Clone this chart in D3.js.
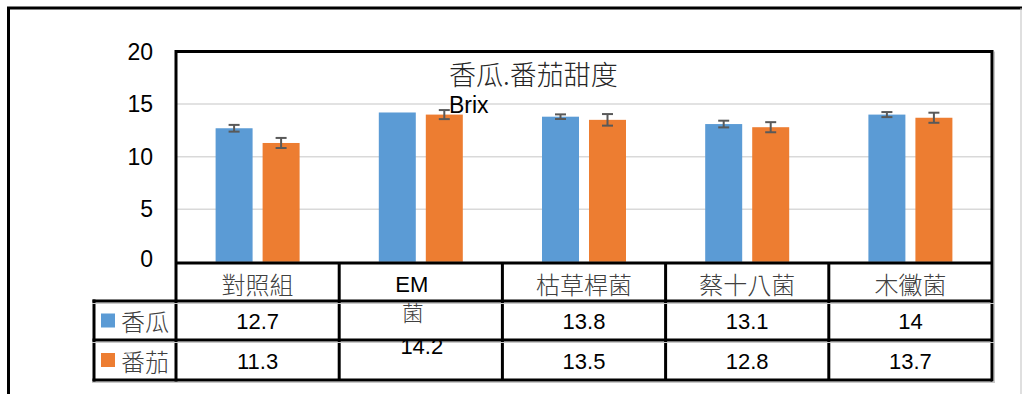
<!DOCTYPE html>
<html>
<head>
<meta charset="utf-8">
<script src="https://cdn.jsdelivr.net/npm/d3@7"></script>
<style>
  html, body { margin: 0; padding: 0; background: #fff; }
  svg { display: block; }
  .cjk { font-family: "Noto Sans CJK TC", "Noto Sans CJK SC", sans-serif; font-weight: 300; }
  .num { font-family: "Liberation Sans", Arial, sans-serif; }
</style>
</head>
<body>
<svg id="chart" width="1022" height="394"></svg>
<script>
// ---- data ----
const categories = ["對照組", "EM 菌", "枯草桿菌", "蔡十八菌", "木黴菌"];
const seriesNames = ["香瓜", "番茄"];
const melon = [12.7, 14.2, 13.8, 13.1, 14.0];
const tomato = [11.3, 14.0, 13.5, 12.8, 13.7];
const melonErr = [0.32, 0, 0.22, 0.32, 0.24];
const tomatoErr = [0.48, 0.43, 0.55, 0.48, 0.48];
const yTicks = [0, 5, 10, 15, 20];
const titleLines = ["香瓜.番茄甜度", "Brix"];
const colors = ["#5B9BD5", "#ED7D31"];

// ---- layout ----
const W = 1022, H = 394;
const plot = { left: 176, right: 992, top: 51.5, bottom: 261.8 };
const table = { top: 263, row1: 301, row2: 340, bottom: 380, legendLeft: 94 };

const svg = d3.select("#chart");

const y = d3.scaleLinear().domain([0, 20]).range([plot.bottom, plot.top]);
const x0 = d3.scaleBand().domain(categories).range([plot.left, plot.right]).padding(0);
const groupW = 84;
const x1 = d3.scaleBand().domain(seriesNames).range([0, groupW]).paddingInner(0.213).paddingOuter(0);
const groupStart = c => x0(c) + (x0.bandwidth() - groupW) / 2;

// outer frame
svg.append("line").attr("x1", 8.5).attr("x2", 8.5).attr("y1", 7).attr("y2", H).attr("stroke", "#000").attr("stroke-width", 3);
svg.append("line").attr("x1", 7).attr("x2", W).attr("y1", 8).attr("y2", 8).attr("stroke", "#000").attr("stroke-width", 3);
svg.append("line").attr("x1", 1021).attr("x2", 1021).attr("y1", 8).attr("y2", H).attr("stroke", "#bfbfbf").attr("stroke-width", 1);

// gridlines
svg.append("g").selectAll("line").data(yTicks.filter(t => t > 0 && t < 20)).join("line")
  .attr("x1", plot.left).attr("x2", plot.right)
  .attr("y1", d => y(d)).attr("y2", d => y(d))
  .attr("stroke", "#d9d9d9").attr("stroke-width", 1.5);

// y tick labels
svg.append("g").selectAll("text").data(yTicks).join("text")
  .attr("class", "num")
  .attr("x", 153)
  .attr("y", d => y(d) + (d === 0 ? -3 : 0))
  .attr("text-anchor", "end")
  .attr("dominant-baseline", "central")
  .attr("font-size", 23)
  .attr("fill", "#000")
  .text(d => d);

// bars
const seriesData = [melon, tomato];
const errData = [melonErr, tomatoErr];
const barsG = svg.append("g");
seriesNames.forEach((s, si) => {
  barsG.append("g").selectAll("rect").data(categories).join("rect")
    .attr("x", c => groupStart(c) + x1(s))
    .attr("y", (c, i) => y(seriesData[si][i]))
    .attr("width", x1.bandwidth())
    .attr("height", (c, i) => y(0) - y(seriesData[si][i]))
    .attr("fill", colors[si]);
});

// error bars
const errG = svg.append("g").attr("stroke", "#595959").attr("stroke-width", 2).attr("fill", "none");
seriesNames.forEach((s, si) => {
  categories.forEach((c, i) => {
    const e = errData[si][i];
    if (!e) return;
    const cx = groupStart(c) + x1(s) + x1.bandwidth() / 2;
    const v = seriesData[si][i];
    const yt = y(v + e), yb = y(v - e);
    errG.append("line").attr("x1", cx).attr("x2", cx).attr("y1", yt).attr("y2", yb);
    errG.append("line").attr("x1", cx - 5.5).attr("x2", cx + 5.5).attr("y1", yt).attr("y2", yt);
    errG.append("line").attr("x1", cx - 5.5).attr("x2", cx + 5.5).attr("y1", yb).attr("y2", yb);
  });
});

// title
svg.append("text").attr("class", "cjk").attr("x", 449).attr("y", 85)
  .attr("font-size", 27).attr("fill", "#262626").text(titleLines[0]);
svg.append("text").attr("class", "num").attr("x", 449).attr("y", 113)
  .attr("font-size", 23).attr("fill", "#000").text(titleLines[1]);

// plot frame
const frame = svg.append("g").attr("stroke", "#000").attr("stroke-width", 3);
frame.append("line").attr("x1", plot.left).attr("x2", plot.right).attr("y1", plot.top).attr("y2", plot.top);
frame.append("line").attr("x1", plot.left).attr("x2", plot.left).attr("y1", plot.top - 1.5).attr("y2", table.bottom + 1.5);
frame.append("line").attr("x1", plot.right).attr("x2", plot.right).attr("y1", plot.top - 1.5).attr("y2", table.bottom + 1.5);

// data table grid
const grid = svg.append("g").attr("stroke", "#000").attr("stroke-width", 3);
grid.append("line").attr("x1", plot.left).attr("x2", plot.right).attr("y1", table.top).attr("y2", table.top);
[table.row1, table.bottom].forEach(yy => {
  grid.append("line").attr("x1", table.legendLeft - 1.5).attr("x2", plot.right).attr("y1", yy).attr("y2", yy);
});
grid.append("line").attr("x1", table.legendLeft).attr("x2", table.legendLeft).attr("y1", table.row1 - 1.5).attr("y2", table.bottom + 1.5);
grid.selectAll(".vcol").data(categories.slice(1)).join("line")
  .attr("x1", c => x0(c)).attr("x2", c => x0(c))
  .attr("y1", table.top).attr("y2", table.bottom);
// faint shadow lines
const shadow = svg.append("g").attr("stroke", "#c8c8c8").attr("stroke-width", 1);
[table.row1, table.row2, table.bottom].forEach(yy => {
  shadow.append("line").attr("x1", table.legendLeft - 2).attr("x2", plot.right + 3).attr("y1", yy + 2.5).attr("y2", yy + 2.5);
});
shadow.append("line").attr("x1", plot.right + 2.5).attr("x2", plot.right + 2.5).attr("y1", plot.top).attr("y2", table.bottom + 2);

// header labels and values
const cx = c => x0(c) + x0.bandwidth() / 2;
const headerY = (table.top + table.row1) / 2 + 1;
const row1Y = (table.row1 + table.row2) / 2;
const row2Y = (table.row2 + table.bottom) / 2;
const hdr = svg.append("g");
categories.forEach((c, i) => {
  const parts = c.split(" ");
  if (parts.length === 1) {
    hdr.append("text").attr("class", "cjk").attr("x", cx(c)).attr("y", headerY)
      .attr("text-anchor", "middle").attr("dominant-baseline", "central")
      .attr("font-size", 24).attr("fill", "#404040").text(c);
    hdr.append("text").attr("class", "num").attr("x", cx(c)).attr("y", row1Y + 1)
      .attr("text-anchor", "middle").attr("dominant-baseline", "central")
      .attr("font-size", 22).attr("fill", "#000").text(melon[i]);
    hdr.append("text").attr("class", "num").attr("x", cx(c)).attr("y", row2Y + 1)
      .attr("text-anchor", "middle").attr("dominant-baseline", "central")
      .attr("font-size", 22).attr("fill", "#000").text(tomato[i]);
  } else {
    // wrapped header pushes the value down
    hdr.append("text").attr("class", "num").attr("x", cx(c) - 9).attr("y", headerY + 1)
      .attr("text-anchor", "middle").attr("dominant-baseline", "central")
      .attr("font-size", 22).attr("fill", "#000").text(parts[0]);
    hdr.append("text").attr("class", "cjk").attr("x", cx(c) - 8).attr("y", headerY + 28)
      .attr("text-anchor", "middle").attr("dominant-baseline", "central")
      .attr("font-size", 22).attr("fill", "#404040").text(parts[1]);
    hdr.append("text").attr("class", "num").attr("x", cx(c) + 1).attr("y", headerY + 63)
      .attr("text-anchor", "middle").attr("dominant-baseline", "central")
      .attr("font-size", 22).attr("fill", "#000").text(melon[i].toFixed(1));
  }
});

// legend keys in table
const leg = svg.append("g");
[row1Y, row2Y].forEach((ry, si) => {
  leg.append("rect").attr("x", 101).attr("y", ry - 7).attr("width", 14).attr("height", 14).attr("fill", colors[si]);
  leg.append("text").attr("class", "cjk").attr("x", 121).attr("y", ry)
    .attr("dominant-baseline", "central").attr("font-size", 24).attr("fill", "#404040").text(seriesNames[si]);
});

// middle row line drawn over the displaced value, as in the reference
svg.append("line").attr("x1", table.legendLeft - 1.5).attr("x2", plot.right).attr("y1", table.row2).attr("y2", table.row2)
  .attr("stroke", "#000").attr("stroke-width", 3);
</script>
</body>
</html>
